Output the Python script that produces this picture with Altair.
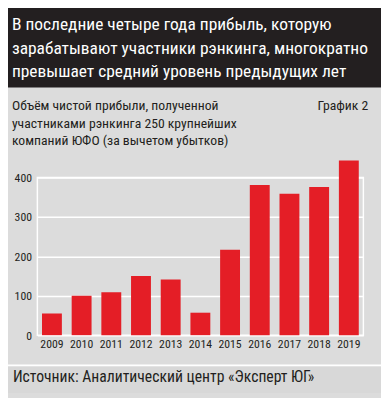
import altair as alt
import pandas as pd

# ---- data ----
years = ["2009", "2010", "2011", "2012", "2013", "2014", "2015", "2016", "2017", "2018", "2019"]
profit = [55, 100, 109, 150, 141, 57, 217, 381, 359, 376, 443]
y_ticks = [0, 100, 200, 300, 400]

header_lines = [
    "В последние четыре года прибыль, которую",
    "зарабатывают участники рэнкинга, многократно",
    "превышает средний уровень предыдущих лет",
]
subtitle_lines = [
    "Объём чистой прибыли, полученной",
    "участниками рэнкинга 250 крупнейших",
    "компаний ЮФО (за вычетом убытков)",
]
chart_label = "График 2"
source_text = "Источник: Аналитический центр «Эксперт ЮГ»"

FONT = "Liberation Sans Narrow, Roboto Condensed, DejaVu Sans Condensed, Roboto, sans-serif"
DARK = "#231f20"
PANEL = "#dcdcdc"
RED = "#e41e26"

df = pd.DataFrame({"year": years, "profit": profit})
one = pd.DataFrame({"k": [0]})

W, H = 333, 161

bars = alt.Chart(df).mark_bar(color=RED, clip=False).encode(
    x=alt.X("year:N", sort=years, title=None,
            scale=alt.Scale(paddingInner=0.33, paddingOuter=0.155),
            axis=alt.Axis(labelAngle=0, labelFont=FONT, labelFontSize=12,
                          labelColor=DARK, labelPadding=4, ticks=False,
                          domain=False, grid=False)),
    y=alt.Y("profit:Q", title=None,
            scale=alt.Scale(domain=[0, 400], nice=False),
            axis=alt.Axis(values=y_ticks, labelFont=FONT, labelFontSize=12,
                          labelColor=DARK, labelPadding=6, ticks=False,
                          domain=False, grid=True, gridColor="white",
                          gridWidth=1.5, gridOpacity=1)),
)

header_bg = alt.Chart(one).mark_rect(color=DARK).encode(
    x=alt.value(-40), x2=alt.value(400), y=alt.value(-180), y2=alt.value(-92)
)
sep = alt.Chart(one).mark_rect(color="white").encode(
    x=alt.value(-40), x2=alt.value(400), y=alt.value(191), y2=alt.value(193)
)
strip = alt.Chart(one).mark_rect(color="#d8d8d8").encode(
    x=alt.value(-40), x2=alt.value(400), y=alt.value(193), y2=alt.value(220)
)

header = alt.Chart(one).mark_text(
    text=header_lines, font=FONT, fontSize=17.8, color="white",
    align="left", baseline="alphabetic", lineHeight=24.4
).encode(x=alt.value(-26), y=alt.value(-151))

subtitle = alt.Chart(one).mark_text(
    text=subtitle_lines, font=FONT, fontSize=14, color=DARK,
    align="left", baseline="alphabetic", lineHeight=17.8
).encode(x=alt.value(-26), y=alt.value(-68.7))

label = alt.Chart(one).mark_text(
    text=chart_label, font=FONT, fontSize=14, color=DARK,
    align="right", baseline="alphabetic"
).encode(x=alt.value(338), y=alt.value(-68.7))

source = alt.Chart(one).mark_text(
    text=source_text, font=FONT, fontSize=16, color=DARK,
    align="left", baseline="alphabetic"
).encode(x=alt.value(-25), y=alt.value(209))

chart = alt.layer(header_bg, sep, strip, bars, header, subtitle, label, source).properties(
    width=W, height=H,
    autosize=alt.AutoSizeParams(type="none"),
    padding={"left": 30, "top": 169, "right": 18, "bottom": 60},
).configure(background=PANEL).configure_view(stroke="white", strokeWidth=1.5)

chart.save("out.html", embed_options={"renderer": "svg", "actions": False})
